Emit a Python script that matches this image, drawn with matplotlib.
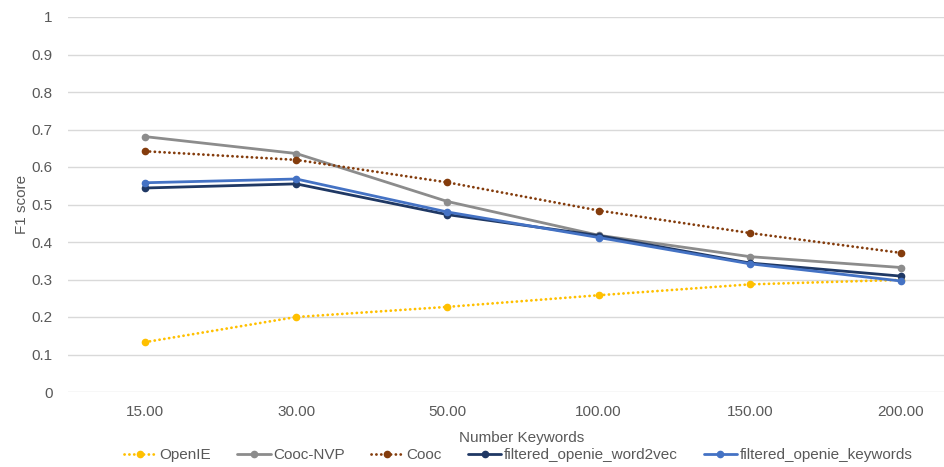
import numpy as np
import matplotlib
matplotlib.use('Agg')
import matplotlib.pyplot as plt

# ===== data
categories = ['15.00', '30.00', '50.00', '100.00', '150.00', '200.00']
openie = [0.133, 0.200, 0.227, 0.258, 0.287, 0.299]
cooc_nvp = [0.681, 0.636, 0.508, 0.418, 0.361, 0.332]
cooc = [0.642, 0.619, 0.559, 0.484, 0.424, 0.371]
word2vec = [0.544, 0.555, 0.473, 0.417, 0.344, 0.309]
keywords = [0.558, 0.568, 0.480, 0.412, 0.342, 0.296]

names = ['OpenIE', 'Cooc-NVP', 'Cooc', 'filtered_openie_word2vec', 'filtered_openie_keywords']
colors = ['#FFC000', '#8C8C8C', '#843C0C', '#1F3864', '#4472C4']
dotted = (0, (0.05, 1.7))
styles = [dotted, '-', dotted, '-', '-']

plt.rcParams['font.family'] = ['Liberation Sans', 'DejaVu Sans']

fig = plt.figure(figsize=(9.44, 4.67), dpi=100)
ax = fig.add_axes([68 / 944, 75 / 467, 876 / 944, 375 / 467])

x = np.arange(len(categories))
series = [openie, cooc_nvp, cooc, word2vec, keywords]
for vals, name, c, ls in zip(series, names, colors, styles):
    ax.plot(x, vals, color=c, linestyle=ls, lw=2, marker='o', markersize=4.5,
            label=name, dash_capstyle='round', solid_capstyle='round', zorder=3)

ax.set_xlim(-0.51, 5.285)
ax.set_ylim(0, 1)
ax.set_yticks(np.arange(0, 1.01, 0.1))
ax.set_yticklabels(['0', '0.1', '0.2', '0.3', '0.4', '0.5', '0.6', '0.7', '0.8', '0.9', '1'])
ax.set_xticks(x)
ax.set_xticklabels(categories)
ax.tick_params(length=0, labelsize=11, labelcolor='#595959')
ax.tick_params(axis='y', pad=11)
ax.tick_params(axis='x', pad=9)
ax.grid(axis='y', color='#D9D9D9', lw=1, zorder=0)
for s in ax.spines.values():
    s.set_visible(False)

ax.set_ylabel('F1 score', fontsize=11, color='#595959', labelpad=2)
fig.text(522 / 944, 29 / 467, 'Number Keywords', ha='center', va='center',
         fontsize=11, color='#595959')

fig.legend(loc='center', bbox_to_anchor=(518 / 944, 12 / 467), ncol=5, frameon=False,
           fontsize=11, labelcolor='#595959', handlelength=2.2, columnspacing=1.7,
           handletextpad=0.15)

fig.savefig('out.png', dpi=100)
